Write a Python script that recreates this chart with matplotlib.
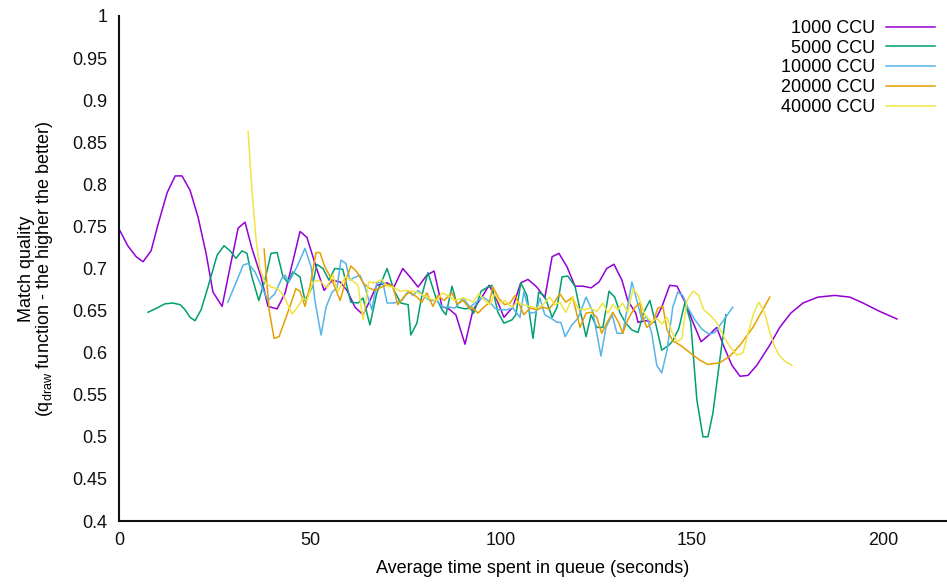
import matplotlib
matplotlib.use("Agg")
import matplotlib.pyplot as plt

plt.rcParams['font.family'] = ['Liberation Sans', 'DejaVu Sans']
plt.rcParams['mathtext.fontset'] = 'custom'
plt.rcParams['mathtext.rm'] = 'Liberation Sans'
plt.rcParams['mathtext.it'] = 'Liberation Sans'

labels = ["1000 CCU", "5000 CCU", "10000 CCU", "20000 CCU", "40000 CCU"]
colors = ["#9400D3", "#009E73", "#56B4E9", "#E69F00", "#F0E442"]

x_1000 = [0, 2.3, 4.5, 6.3, 8.4, 10.2, 12.6, 14.7, 16.5, 18.6, 20.7, 22.8, 24.6, 27.0,
          29.1, 31.2, 33.0, 34.8, 37.2, 39.0, 41.4, 43.5, 45.5, 47.4, 49.2, 51.6, 53.7,
          55.8, 57.9, 59.7, 61.8, 63.9, 65.7, 67.5, 70.2, 72.0, 74.3, 76.2, 78.3, 80.6,
          82.5, 84.6, 86.1, 88.2, 90.6, 92.7, 95.0, 96.9, 99.0, 100.8, 103.1, 105.2,
          107.1, 109.4, 111.5, 113.4, 115.2, 117.3, 119.4, 121.5, 123.6, 125.7, 127.7,
          129.6, 131.7, 133.2, 135.3, 135.9, 138.0, 140.1, 142.1, 144.2, 146.1, 148.2,
          150.3, 152.4, 154.5, 156.5, 158.4, 160.5, 162.6, 164.7, 167.0, 170.4, 173.0,
          175.9, 179.1, 183.0, 187.4, 191.4, 194.8, 199.2, 203.7]
y_1000 = [0.747, 0.727, 0.714, 0.708, 0.721, 0.752, 0.790, 0.810, 0.810, 0.793, 0.761,
          0.718, 0.672, 0.655, 0.702, 0.748, 0.755, 0.724, 0.690, 0.655, 0.652, 0.671,
          0.708, 0.744, 0.737, 0.702, 0.674, 0.686, 0.684, 0.674, 0.654, 0.645, 0.662,
          0.680, 0.683, 0.678, 0.700, 0.690, 0.678, 0.692, 0.697, 0.654, 0.653, 0.645,
          0.610, 0.651, 0.666, 0.680, 0.662, 0.642, 0.654, 0.683, 0.687, 0.678, 0.665,
          0.714, 0.718, 0.702, 0.679, 0.679, 0.677, 0.684, 0.700, 0.705, 0.686, 0.662,
          0.647, 0.636, 0.638, 0.636, 0.654, 0.680, 0.679, 0.660, 0.636, 0.613, 0.621,
          0.630, 0.607, 0.585, 0.572, 0.573, 0.585, 0.609, 0.630, 0.647, 0.659, 0.666,
          0.668, 0.666, 0.659, 0.649, 0.640]

x_5000 = [7.6, 9.9, 12.0, 14.1, 16.0, 17.3, 18.6, 19.9, 21.5, 23.3, 25.7, 27.5, 29.1,
          30.6, 32.2, 33.5, 34.8, 36.6, 38.2, 39.8, 41.4, 42.9, 44.2, 45.5, 47.4, 48.7,
          50.5, 51.8, 53.4, 55.0, 56.5, 58.6, 60.7, 62.6, 63.9, 65.7, 67.5, 70.2, 72.0,
          73.8, 75.7, 76.4, 78.0, 79.3, 80.9, 83.0, 84.6, 85.6, 87.2, 88.7, 90.6, 91.9,
          92.9, 94.8, 96.6, 97.6, 99.2, 100.8, 102.9, 103.9, 105.2, 106.8, 108.4, 109.9,
          111.5, 113.4, 114.7, 116.0, 117.5, 119.4, 120.7, 122.3, 123.6, 125.1, 126.7,
          128.3, 129.8, 131.2, 132.7, 134.3, 135.9, 137.4, 139.0, 140.6, 142.1, 144.0,
          145.0, 146.6, 148.2, 149.7, 151.3, 152.9, 154.2, 155.5, 157.3, 158.9]
y_5000 = [0.648, 0.653, 0.658, 0.659, 0.657, 0.651, 0.642, 0.638, 0.651, 0.678, 0.716,
          0.727, 0.721, 0.712, 0.721, 0.718, 0.690, 0.662, 0.686, 0.718, 0.719, 0.691,
          0.683, 0.696, 0.690, 0.662, 0.677, 0.705, 0.700, 0.686, 0.700, 0.699, 0.660,
          0.659, 0.665, 0.633, 0.671, 0.700, 0.674, 0.659, 0.657, 0.621, 0.635, 0.668,
          0.695, 0.665, 0.651, 0.645, 0.679, 0.654, 0.652, 0.653, 0.647, 0.673, 0.678,
          0.680, 0.648, 0.635, 0.639, 0.645, 0.683, 0.668, 0.617, 0.672, 0.667, 0.642,
          0.654, 0.690, 0.691, 0.679, 0.651, 0.619, 0.645, 0.630, 0.630, 0.673, 0.666,
          0.647, 0.635, 0.627, 0.624, 0.648, 0.662, 0.633, 0.603, 0.609, 0.614, 0.629,
          0.660, 0.636, 0.544, 0.500, 0.500, 0.528, 0.591, 0.645]

x_10000 = [28.5, 30.9, 32.5, 33.8, 35.6, 37.4, 39.0, 40.8, 42.7, 43.5, 44.5, 46.6, 48.7,
           50.3, 51.3, 52.9, 54.2, 55.8, 57.1, 58.1, 59.4, 60.5, 61.5, 63.1, 64.4, 66.2,
           67.5, 69.1, 70.2, 72.0, 74.1, 75.7, 77.0, 78.3, 79.6, 81.4, 83.2, 84.8, 86.6,
           88.0, 90.1, 91.9, 93.5, 95.3, 96.9, 98.4, 99.5, 101.6, 103.1, 105.0, 106.0,
           107.6, 109.2, 110.2, 111.5, 113.1, 114.7, 115.7, 116.8, 118.6, 120.2, 122.3,
           124.1, 126.2, 127.5, 129.1, 130.4, 131.9, 134.3, 135.6, 136.9, 138.2, 139.5,
           140.8, 142.1, 143.5, 145.0, 146.3, 147.6, 149.0, 150.8, 152.6, 154.5, 156.0,
           157.9, 160.7]
y_10000 = [0.660, 0.686, 0.704, 0.706, 0.696, 0.678, 0.662, 0.670, 0.689, 0.692, 0.684,
           0.702, 0.724, 0.702, 0.662, 0.621, 0.654, 0.672, 0.677, 0.710, 0.706, 0.686,
           0.689, 0.692, 0.678, 0.651, 0.683, 0.683, 0.659, 0.659, 0.662, 0.673, 0.668,
           0.674, 0.668, 0.662, 0.662, 0.654, 0.654, 0.653, 0.665, 0.654, 0.660, 0.666,
           0.661, 0.653, 0.651, 0.651, 0.653, 0.642, 0.672, 0.647, 0.648, 0.665, 0.645,
           0.641, 0.636, 0.636, 0.619, 0.633, 0.641, 0.666, 0.648, 0.596, 0.630, 0.645,
           0.623, 0.623, 0.684, 0.662, 0.639, 0.643, 0.623, 0.585, 0.576, 0.603, 0.654,
           0.672, 0.668, 0.653, 0.639, 0.628, 0.622, 0.624, 0.636, 0.654]

x_20000 = [38.0, 39.3, 40.6, 41.9, 43.5, 45.3, 46.3, 47.4, 48.7, 50.0, 51.6, 52.6, 53.9,
           55.8, 57.9, 59.2, 60.7, 62.3, 63.9, 65.4, 67.0, 68.8, 70.4, 71.7, 73.0, 74.9,
           76.2, 78.0, 79.3, 80.6, 82.2, 83.5, 85.1, 87.2, 88.5, 90.1, 91.9, 92.4, 94.0,
           95.5, 96.9, 97.9, 99.5, 101.0, 102.4, 103.7, 104.7, 106.0, 107.6, 109.4,
           111.0, 112.6, 113.9, 115.4, 117.0, 118.8, 120.7, 122.3, 123.8, 125.1, 126.4,
           127.7, 129.3, 130.9, 131.9, 133.2, 135.1, 136.4, 136.9, 138.2, 139.8, 141.1,
           142.4, 143.5, 145.0, 146.9, 149.5, 152.1, 154.2, 157.3, 160.0, 162.6, 166.0,
           170.4]
y_20000 = [0.723, 0.651, 0.617, 0.619, 0.639, 0.662, 0.676, 0.673, 0.655, 0.679, 0.719,
           0.719, 0.702, 0.686, 0.662, 0.683, 0.703, 0.696, 0.683, 0.677, 0.674, 0.678,
           0.681, 0.679, 0.657, 0.668, 0.672, 0.666, 0.660, 0.671, 0.655, 0.668, 0.662,
           0.671, 0.658, 0.662, 0.652, 0.654, 0.647, 0.654, 0.659, 0.678, 0.664, 0.657,
           0.659, 0.668, 0.659, 0.645, 0.653, 0.651, 0.654, 0.652, 0.659, 0.670, 0.660,
           0.666, 0.630, 0.647, 0.648, 0.642, 0.623, 0.635, 0.648, 0.635, 0.623, 0.639,
           0.654, 0.659, 0.645, 0.630, 0.636, 0.653, 0.655, 0.627, 0.614, 0.609, 0.600,
           0.591, 0.586, 0.588, 0.596, 0.609, 0.630, 0.666]

x_40000 = [33.8, 34.8, 35.9, 36.9, 38.2, 39.8, 41.6, 43.2, 45.3, 46.6, 48.2, 49.2, 50.8,
           52.4, 54.5, 56.0, 57.3, 59.2, 61.0, 62.6, 63.9, 65.4, 67.0, 68.8, 70.2, 71.7,
           73.6, 74.9, 76.7, 78.0, 79.6, 81.4, 83.2, 84.6, 86.1, 88.0, 90.1, 91.9, 92.7,
           94.2, 95.8, 97.1, 98.4, 99.7, 101.0, 102.9, 104.2, 105.8, 107.6, 109.4, 111.0,
           112.8, 114.1, 115.4, 117.0, 118.8, 120.2, 122.0, 123.3, 125.1, 126.7, 128.0,
           129.3, 130.6, 131.9, 133.2, 134.6, 135.9, 137.7, 139.5, 140.8, 142.1, 143.5,
           144.8, 146.1, 147.4, 148.7, 150.3, 151.8, 153.1, 154.7, 156.5, 158.1, 160.0,
           161.8, 163.4, 164.7, 166.2, 167.5, 169.1, 170.4, 171.7, 173.0, 174.6, 176.2]
y_40000 = [0.863, 0.793, 0.734, 0.700, 0.684, 0.678, 0.676, 0.667, 0.646, 0.653, 0.665,
           0.662, 0.684, 0.686, 0.677, 0.693, 0.672, 0.690, 0.686, 0.680, 0.639, 0.684,
           0.683, 0.687, 0.679, 0.678, 0.673, 0.674, 0.673, 0.672, 0.668, 0.664, 0.662,
           0.671, 0.668, 0.662, 0.665, 0.662, 0.660, 0.670, 0.662, 0.657, 0.670, 0.659,
           0.662, 0.654, 0.660, 0.657, 0.655, 0.653, 0.657, 0.666, 0.657, 0.660, 0.648,
           0.666, 0.652, 0.651, 0.653, 0.649, 0.659, 0.647, 0.657, 0.651, 0.659, 0.648,
           0.676, 0.668, 0.645, 0.636, 0.641, 0.634, 0.642, 0.624, 0.613, 0.617, 0.662,
           0.673, 0.668, 0.651, 0.645, 0.636, 0.621, 0.607, 0.597, 0.600, 0.623, 0.647,
           0.660, 0.647, 0.624, 0.607, 0.596, 0.589, 0.585]

x_ticks = [0, 50, 100, 150, 200]
y_ticks = [0.4, 0.45, 0.5, 0.55, 0.6, 0.65, 0.7, 0.75, 0.8, 0.85, 0.9, 0.95, 1]
y_tick_labels = ["0.4", "0.45", "0.5", "0.55", "0.6", "0.65", "0.7", "0.75", "0.8",
                 "0.85", "0.9", "0.95", "1"]

series = [(x_1000, y_1000), (x_5000, y_5000), (x_10000, y_10000),
          (x_20000, y_20000), (x_40000, y_40000)]

FS = 13

fig = plt.figure(figsize=(9.47, 5.86), dpi=100)
ax = fig.add_axes([119 / 947, 65 / 586, 828 / 947, 505 / 586])

for (xs, ys), lab, col in zip(series, labels, colors):
    ax.plot(xs, ys, color=col, lw=1.1, label=lab)

ax.set_xlim(0, 216.8)
ax.set_ylim(0.4, 1.0)
ax.set_xticks(x_ticks)
ax.set_xticklabels([str(t) for t in x_ticks])
ax.set_yticks(y_ticks)
ax.set_yticklabels(y_tick_labels)
ax.tick_params(axis='both', length=0, labelsize=FS, colors='#111111')
ax.tick_params(axis='y', pad=8.5)
ax.tick_params(axis='x', pad=8)
for s in ['top', 'right']:
    ax.spines[s].set_visible(False)
for s in ['left', 'bottom']:
    ax.spines[s].set_linewidth(1.5)
    ax.spines[s].set_color('#111111')

ax.set_xlabel("Average time spent in queue (seconds)", fontsize=FS, labelpad=8)
ax.set_ylabel("Match quality\n(q$_{\\mathrm{draw}}$ function - the higher the better)",
              fontsize=FS, labelpad=12, linespacing=0.95)

leg = ax.legend(loc='upper right', bbox_to_anchor=(935 / 947, 1 - 20 / 586),
                bbox_transform=fig.transFigure, frameon=False, markerfirst=False,
                fontsize=FS, handlelength=2.7, handletextpad=0.6, labelspacing=0.15,
                borderpad=0, borderaxespad=0)
for t in leg.get_texts():
    t.set_ha('right')
leg._legend_box.align = 'right'

fig.savefig("out.png", dpi=100)
